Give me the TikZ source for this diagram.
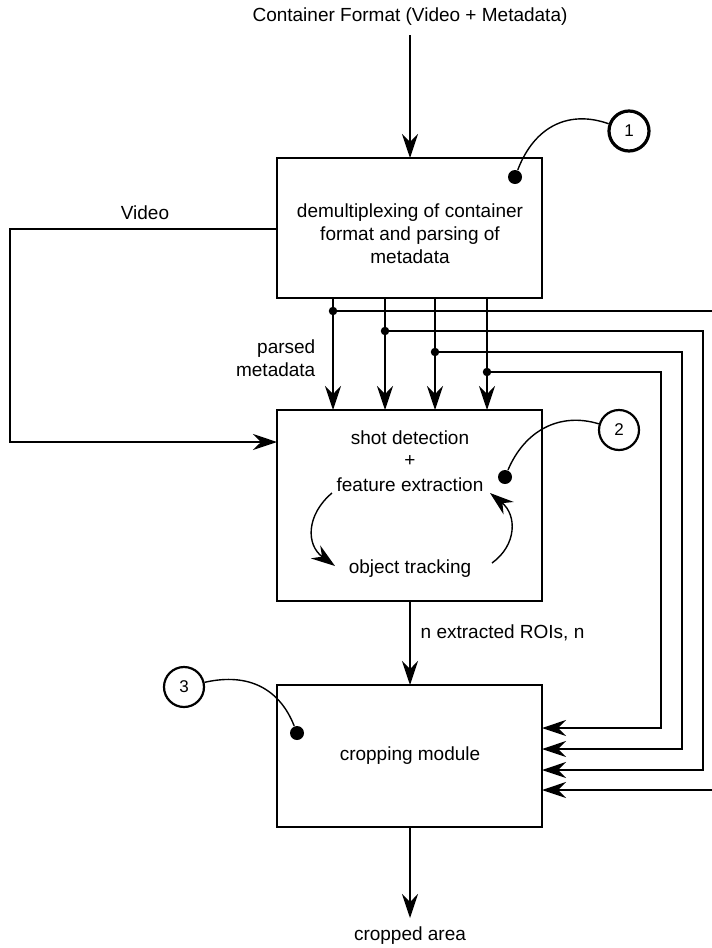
\documentclass[tikz,border=0pt]{standalone}
\usepackage{fontspec}
\setmainfont{Liberation Sans}
\usetikzlibrary{arrows.meta}
\begin{document}
\begin{tikzpicture}[x=1pt,y=-1pt,
  line width=1.4pt,
  font=\fontsize{19}{23}\selectfont,
  arr/.style={-{Stealth[length=24pt,width=16pt,inset=8pt]}},
  blk/.style={draw,line width=1.4pt},
  lbl/.style={inner sep=0pt,align=center},
  dotc/.style={circle,fill=black,inner sep=0pt,minimum size=14pt},
  jn/.style={circle,fill=black,inner sep=0pt,minimum size=8.5pt},
  numc/.style={circle,draw,inner sep=0pt,minimum size=40pt,font=\fontsize{17}{20}\selectfont}]
\useasboundingbox (0,0) rectangle (712,948);
% title
\node[lbl] (title) at (410,17) {Container Format (Video + Metadata)};
\coordinate (tin) at (410,35);
% boxes
\draw[blk] (277,158) rectangle (542,298);
\coordinate (b1n) at (410,158);
\coordinate (b1w) at (277,229);
\node[lbl] (t1) at (410,234) {demultiplexing of container\\format and parsing of\\metadata};
\draw[blk] (277,410) rectangle (542,601);
\draw[blk] (277,685) rectangle (542,827);
\node[lbl] (sd) at (410,438) {shot detection};
\node[lbl] (plus) at (410,461) {+};
\node[lbl] (fe) at (410,485) {feature extraction};
\node[lbl] (ot) at (410,569) {object tracking};
\node[lbl] (cm) at (410,756) {cropping module};
% input arrow
\draw[arr] (tin) -- (b1n);
% video path
\node[lbl] (vid) at (145,213) {Video};
\coordinate (b2w) at (277,442);
\draw[arr] (b1w) -- (10,229) -- (10,442) -- (b2w);
% parsed metadata
\node[lbl,align=right,anchor=east] (pm) at (316,358) {parsed\\metadata};
% four vertical arrows with junctions
\coordinate (v1t) at (333,298); \coordinate (v1b) at (333,410);
\coordinate (v2t) at (385,298); \coordinate (v2b) at (385,410);
\coordinate (v3t) at (435,298); \coordinate (v3b) at (435,410);
\coordinate (v4t) at (487,298); \coordinate (v4b) at (487,410);
\draw[arr] (v1t) -- (v1b);
\draw[arr] (v2t) -- (v2b);
\draw[arr] (v3t) -- (v3b);
\draw[arr] (v4t) -- (v4b);
\node[jn] (j1) at (333,311) {};
\node[jn] (j2) at (385,331) {};
\node[jn] (j3) at (435,352) {};
\node[jn] (j4) at (487,372) {};
\coordinate (e1) at (542,790);
\coordinate (e2) at (542,770);
\coordinate (e3) at (542,749);
\coordinate (e4) at (542,728);
\draw[arr] (j4.center) -- (661,372) -- (661,728) -- (e4);
\draw[arr] (j3.center) -- (682,352) -- (682,749) -- (e3);
\draw[arr] (j2.center) -- (703,331) -- (703,770) -- (e2);
\draw[arr] (j1.center) -- (716,311) -- (716,790) -- (e1);
% box2 -> box3
\coordinate (b2s) at (410,601);
\coordinate (b3n) at (410,685);
\draw[arr] (b2s) -- (b3n);
\node[lbl,anchor=west] (roi) at (420,633) {n extracted ROIs, n};
% output
\coordinate (b3s) at (410,827);
\coordinate (out) at (410,918);
\draw[arr] (b3s) -- (out);
\node[lbl] (crop) at (410,936) {cropped area};
% loop arrows in box 2
\draw[arr] (332,493) .. controls (306,515) and (306,545) .. (335,566);
\draw[arr] (492,563) .. controls (517,545) and (517,515) .. (490,493);
% callouts
\node[numc,line width=3.2pt] (c1) at (629,131) {1};
\node[dotc] (d1) at (515,177) {};
\draw[line width=1.4pt] (d1) .. controls (535,125) and (570,110) .. (c1);
\node[numc,line width=2.2pt] (c2) at (619,430) {2};
\node[dotc] (d2) at (505,477) {};
\draw[line width=1.4pt] (d2) .. controls (525,430) and (560,412) .. (c2);
\node[numc,line width=2.2pt] (c3) at (184,687) {3};
\node[dotc] (d3) at (297,733) {};
\draw[line width=1.4pt] (c3) .. controls (250,672) and (280,690) .. (d3);
\end{tikzpicture}
\end{document}
